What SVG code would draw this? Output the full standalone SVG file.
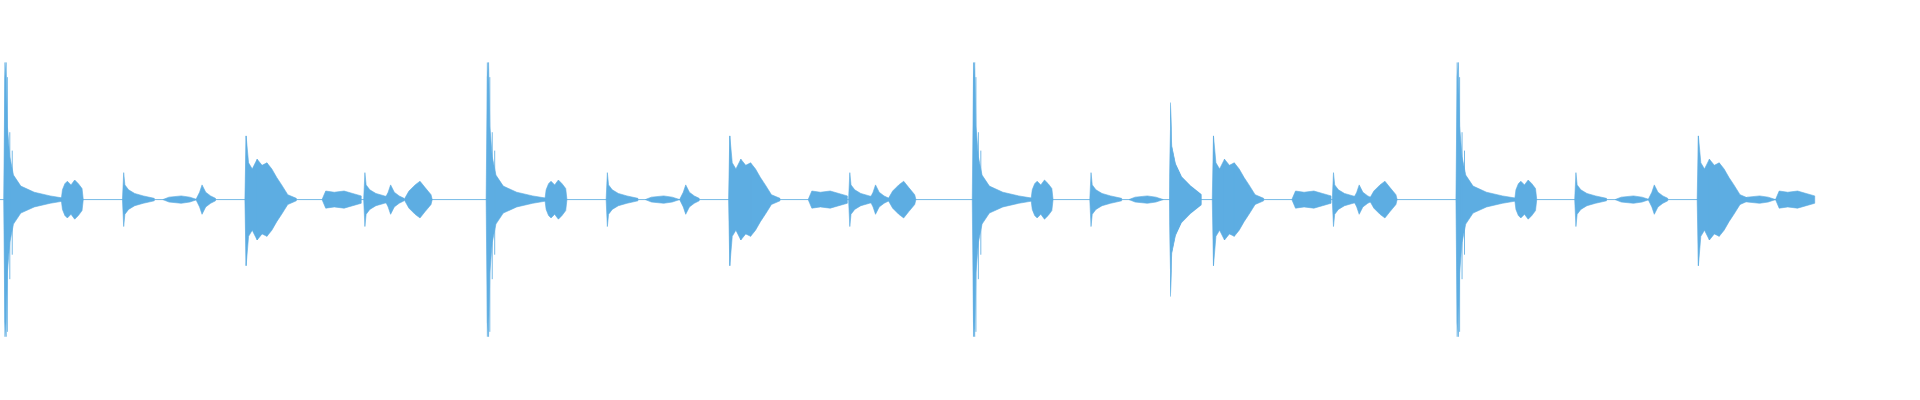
<svg xmlns="http://www.w3.org/2000/svg" width="1920" height="400" viewBox="0 0 1920 400">
<style>
.w{fill:#5dade2;stroke:#5dade2;stroke-width:0.5}
.l{stroke:#5dade2;stroke-width:0.7;fill:none}
</style>
<defs>
<g id="big"><path class="w" d="M0,0 L1,-100 L2,-112 L3,-60 L5,-35 L8,-20 L14,-11 L25,-6 L38,-3 L50,-1 L50,1 L38,3 L25,6 L14,11 L8,20 L5,35 L3,60 L2,112 L1,100 Z"/><path class="l" d="M1,-112V112M3,-100V108M5,-55V65M7,-40V45"/></g>
<g id="block"><path class="w" d="M0,0 L1,-8 L3,-13 L5,-15 L8,-12 L11,-16 L14,-13 L17,-9 L18,0 L17,9 L14,13 L11,16 L8,12 L5,15 L3,13 L1,8 Z"/></g>
<g id="ping"><path class="w" d="M0,0 L1,-22 L2,-12 L5,-8 L10,-5 L17,-3 L26,-1 L26,1 L17,3 L10,5 L5,8 L2,12 L1,22 Z"/></g>
<g id="small"><path class="w" d="M0,0 L5,-2 L15,-3 L22,-2 L28,0 L22,2 L15,3 L5,2 Z"/></g>
<g id="hump"><path class="w" d="M0,0 L3,-6 L5,-12 L8,-6 L12,-3 L16,-1 L16,1 L12,3 L8,6 L5,12 L3,6 Z"/></g>
<g id="burst"><path class="w" d="M0,0 L1,-52 L3,-30 L6,-25 L10,-33 L14,-28 L18,-30 L22,-25 L26,-18 L30,-12 L35,-4 L42,-1 L42,1 L35,4 L30,12 L26,18 L22,25 L18,30 L14,28 L10,33 L6,25 L3,30 L1,54 Z"/><path class="l" d="M1,-52V54M10,-33V33M18,-30V30"/></g>
<g id="tail"><path class="w" d="M0,0 L3,-7 L10,-6 L18,-7 L25,-5 L32,-3 L32,3 L25,5 L18,7 L10,6 L3,7 Z"/></g>
<g id="fuzz"><path class="w" d="M0,0 L4,-7 L9,-12 L13,-15 L17,-10 L22,-4 L23,0 L22,4 L17,10 L13,15 L9,12 L4,7 Z"/></g>
</defs>
<g transform="scale(1.2245)">
<line class="l" x1="0" y1="163" x2="1475" y2="163"/>
<g id="group1" transform="translate(0,163)">
<use href="#big" x="3"/><use href="#block" x="50"/><use href="#ping" x="100"/><use href="#small" x="133"/><use href="#hump" x="160"/><use href="#burst" x="200"/><use href="#tail" x="263"/><use href="#ping" x="297"/><use href="#hump" x="314"/><use href="#fuzz" x="330"/>
</g>
<g id="group2" transform="translate(396,163)">
<use href="#big" x="1"/><use href="#block" x="49"/><use href="#ping" x="99"/><use href="#small" x="131"/><use href="#hump" x="159"/><use href="#burst" x="199"/><use href="#tail" x="264"/><use href="#ping" x="297"/><use href="#hump" x="314"/><use href="#fuzz" x="329"/>
</g>
<g id="group3" transform="translate(792,163)">
<use href="#big" x="2"/><use href="#block" x="50"/><use href="#ping" x="98"/><use href="#small" x="130"/><g transform="translate(163,0) scale(1,3.6)"><use href="#ping"/></g><use href="#burst" x="198"/><use href="#tail" x="263"/><use href="#ping" x="296"/><use href="#hump" x="313"/><use href="#fuzz" x="326"/>
</g>
<g id="group4" transform="translate(1188,163)">
<use href="#big" x="1"/><use href="#block" x="49"/><use href="#ping" x="98"/><use href="#small" x="131"/><use href="#hump" x="158"/><use href="#burst" x="198"/><use href="#small" x="234"/><use href="#tail" x="262"/>
</g>
</g>
</svg>
